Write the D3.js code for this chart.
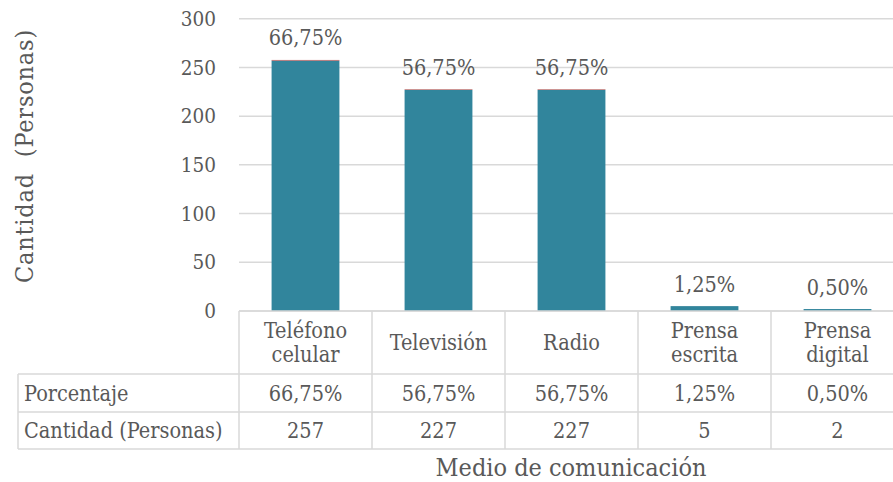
<!DOCTYPE html>
<html>
<head>
<meta charset="utf-8">
<script src="https://cdn.jsdelivr.net/npm/d3@7"></script>
<style>
  body { margin: 0; background: #fff; }
  svg text { font-family: "DejaVu Serif Condensed", "DejaVu Serif", serif; fill: #595959; }
</style>
</head>
<body>
<svg id="chart" width="893" height="482"></svg>
<script>
// data
const categories = [["Teléfono", "celular"], ["Televisión"], ["Radio"], ["Prensa", "escrita"], ["Prensa", "digital"]];
const cantidad = [257, 227, 227, 5, 2];
const porcentaje = [0.6675, 0.5675, 0.5675, 0.0125, 0.005];
const yTicks = [0, 50, 100, 150, 200, 250, 300];
const rowNames = ["Porcentaje", "Cantidad (Personas)"];

const fmtPct = d => d3.format(".2%")(d).replace(".", ",");

const svg = d3.select("#chart");
const fontSize = 21.5;
const tickSize = 20.5;
const titleSize = 25;

const x = d3.scaleBand()
	.domain(d3.range(categories.length))
	.range([239, 904]);

const y = d3.scaleLinear()
	.domain([0, 300])
	.range([311, 18.7]);

const barW = x.bandwidth() * 0.51;
const gridColor = "#d9d9d9";

// gridlines
svg.append("g").selectAll("line")
	.data(yTicks)
	.enter().append("line")
	.attr("x1", 239).attr("x2", 904)
	.attr("y1", d => y(d)).attr("y2", d => y(d))
	.style("stroke", gridColor).style("stroke-width", 1.5);

// y tick labels
svg.append("g").selectAll("text")
	.data(yTicks)
	.enter().append("text")
	.attr("x", 216)
	.attr("y", d => y(d))
	.attr("dy", "0.35em")
	.attr("text-anchor", "end")
	.style("font-size", tickSize + "px")
	.text(d => d);

// bars: cantidad with porcentaje stacked on top
const bars = svg.append("g");
bars.selectAll(".cant")
	.data(cantidad)
	.enter().append("rect")
	.attr("x", (d, i) => x(i) + (x.bandwidth() - barW) / 2)
	.attr("width", barW)
	.attr("y", d => y(d))
	.attr("height", d => y(0) - y(d))
	.style("fill", "#31859c");

bars.selectAll(".pct")
	.data(porcentaje)
	.enter().append("rect")
	.attr("x", (d, i) => x(i) + (x.bandwidth() - barW) / 2)
	.attr("width", barW)
	.attr("y", (d, i) => y(cantidad[i] + d))
	.attr("height", d => y(0) - y(d))
	.style("fill", "#c0504d");

// data labels
svg.append("g").selectAll("text")
	.data(porcentaje)
	.enter().append("text")
	.attr("x", (d, i) => x(i) + x.bandwidth() / 2)
	.attr("y", (d, i) => y(cantidad[i] + d) - 22)
	.attr("dy", "0.35em")
	.attr("text-anchor", "middle")
	.style("font-size", fontSize + "px")
	.text(d => fmtPct(d));

// data table
const tTop = 311, r1 = 374, r2 = 412, r3 = 449, tLeft = 18;
const table = svg.append("g").style("stroke", gridColor).style("stroke-width", 1.5);
[[239, 904, tTop], [tLeft, 904, r1], [tLeft, 904, r2], [tLeft, 904, r3]].forEach(l => {
	table.append("line").attr("x1", l[0]).attr("x2", l[1]).attr("y1", l[2]).attr("y2", l[2]);
});
table.append("line").attr("x1", tLeft).attr("x2", tLeft).attr("y1", r1).attr("y2", r3);
d3.range(categories.length).forEach(i => {
	table.append("line").attr("x1", x(i)).attr("x2", x(i)).attr("y1", tTop).attr("y2", r3);
});

// category header
const head = svg.append("g");
categories.forEach((c, i) => {
	const cy = (tTop + r1) / 2;
	c.forEach((line, j) => {
		head.append("text")
			.attr("x", x(i) + x.bandwidth() / 2)
			.attr("y", cy + (j - (c.length - 1) / 2) * 24)
			.attr("dy", "0.35em")
			.attr("text-anchor", "middle")
			.style("font-size", fontSize + "px")
			.text(line);
	});
});

// table rows
const rows = [porcentaje.map(fmtPct), cantidad.map(String)];
const rowMid = [(r1 + r2) / 2, (r2 + r3) / 2];
rows.forEach((vals, r) => {
	svg.append("text")
		.attr("x", 24)
		.attr("y", rowMid[r])
		.attr("dy", "0.35em")
		.style("font-size", fontSize + "px")
		.text(rowNames[r]);
	svg.append("g").selectAll("text")
		.data(vals)
		.enter().append("text")
		.attr("x", (d, i) => x(i) + x.bandwidth() / 2)
		.attr("y", rowMid[r])
		.attr("dy", "0.35em")
		.attr("text-anchor", "middle")
		.style("font-size", fontSize + "px")
		.text(d => d);
});

// axis titles
svg.append("text")
	.attr("x", 571)
	.attr("y", 467)
	.attr("dy", "0.35em")
	.attr("text-anchor", "middle")
	.style("font-size", titleSize + "px")
	.text("Medio de comunicación");

svg.append("text")
	.attr("transform", "translate(24,156) rotate(-90)")
	.attr("dy", "0.35em")
	.attr("text-anchor", "middle")
	.style("font-size", titleSize + "px")
	.style("letter-spacing", "0.8px")
	.style("white-space", "pre")
	.text("Cantidad  (Personas)");
</script>
</body>
</html>
